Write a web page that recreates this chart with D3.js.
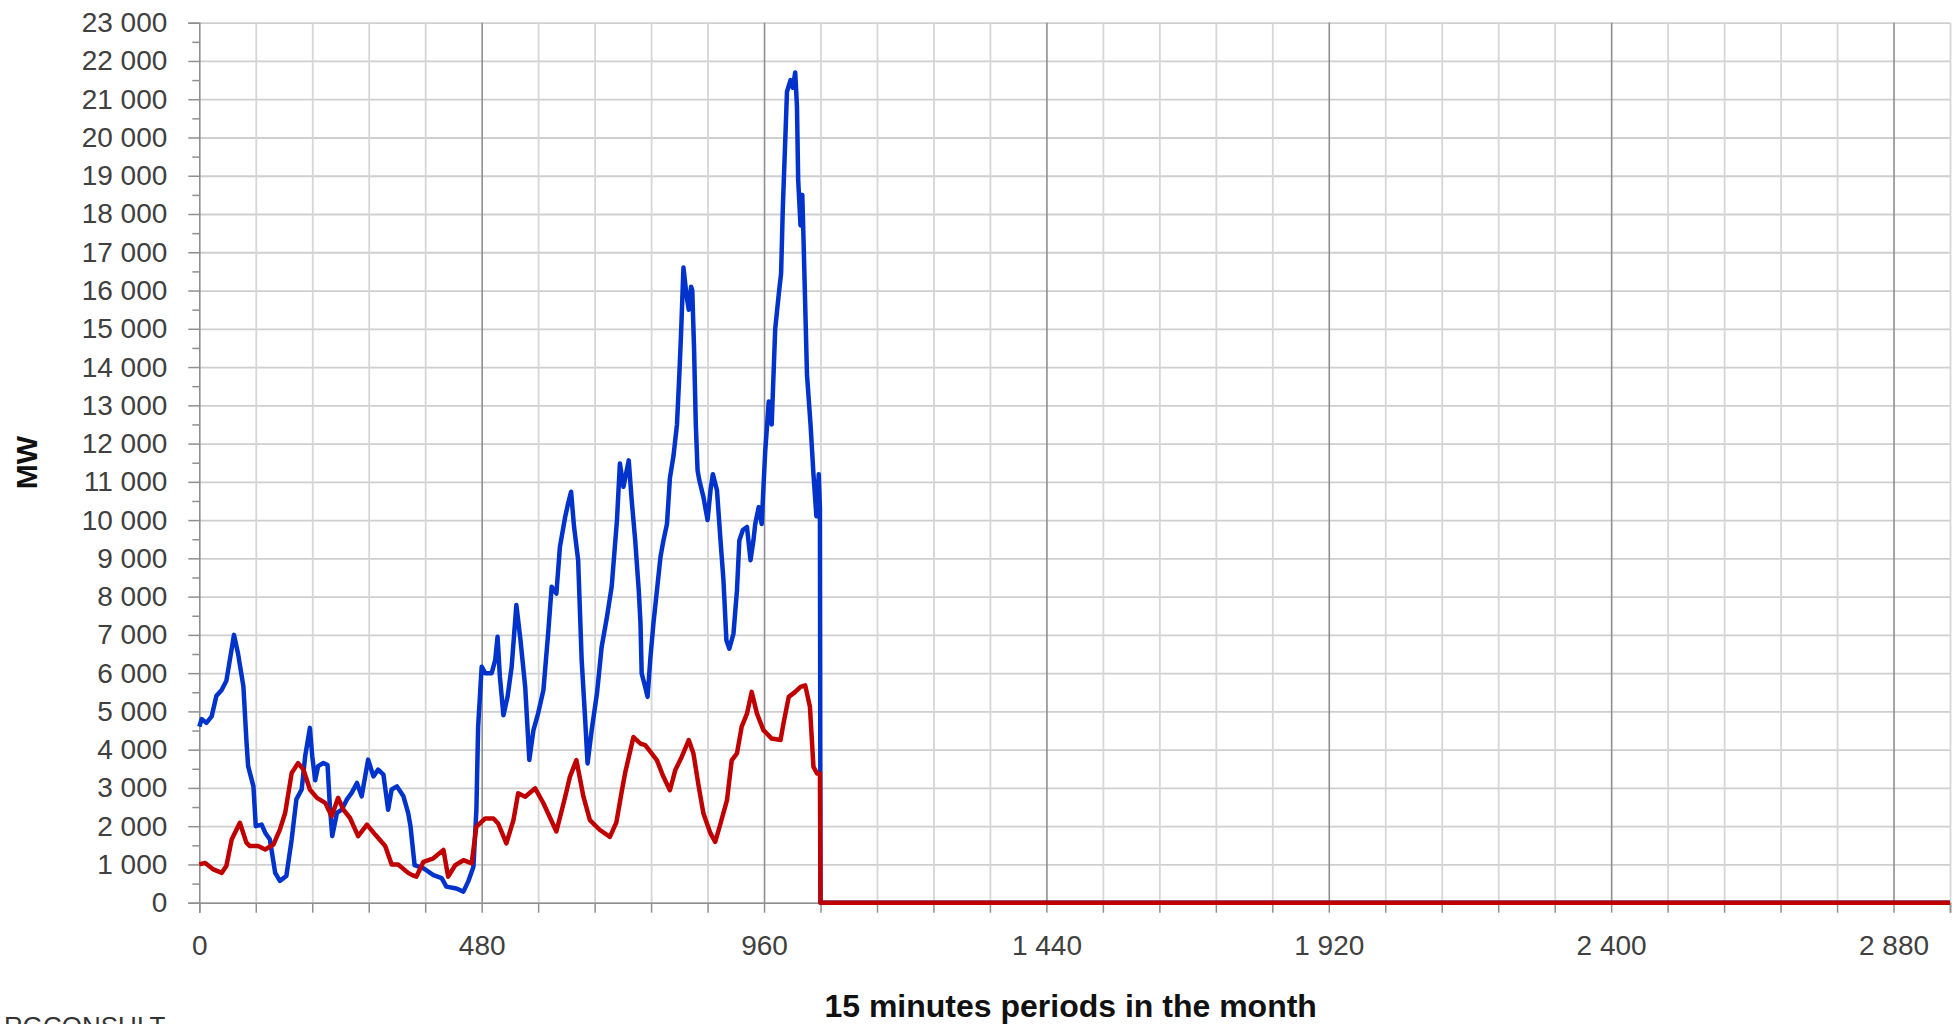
<!DOCTYPE html>
<html>
<head>
<meta charset="utf-8">
<script src="https://cdn.jsdelivr.net/npm/d3@7"></script>
<style>
  body { margin: 0; background: #fff; }
  text { font-family: "Liberation Sans", Arial, sans-serif; fill: #404040; }
</style>
</head>
<body>
<svg id="chart"></svg>
<script>
// 15-min period index (x) and MW readings
const bluePeriods = [0,4,12,21,29,38,46,52,59,66,75,80,83,92,96,106,112,120,129,137,148,157,165,174,180,188,192,197,202,211,218,222,226,234,242,251,259,268,276,287,296,304,313,321,327,336,347,355,359,366,381,398,412,420,437,449,457,466,471,474,480,486,497,503,507,511,517,524,531,539,546,554,561,568,576,585,593,599,607,613,622,627,632,637,644,650,656,660,667,676,684,693,701,710,715,721,730,735,741,747,750,752,758,762,767,772,778,784,789,795,800,806,812,816,819,823,828,832,836,838,841,844,847,850,857,864,869,873,880,886,891,896,901,908,914,918,924,931,937,942,945,951,956,962,968,973,979,985,989,992,996,999,1005,1009,1013,1016,1018,1022,1025,1027,1030,1033,1039,1044,1049,1053,1055,1056,2976];
const blueMW = [4600,4800,4700,4870,5400,5560,5800,6350,7000,6500,5650,4260,3570,3040,2000,2040,1830,1650,780,570,700,1650,2700,2960,3830,4570,3830,3200,3570,3650,3600,2520,1740,2350,2430,2700,2870,3130,2780,3740,3300,3480,3350,2430,2960,3040,2780,2350,2000,980,900,720,640,420,370,290,550,940,2420,4600,6170,6000,6000,6340,6950,5900,4900,5380,6170,7780,6860,5640,3730,4510,4950,5560,7040,8260,8080,9300,10090,10440,10740,9830,8950,6340,4770,3640,4510,5470,6690,7470,8260,10000,11480,10870,11560,10520,9470,8170,7300,5990,5640,5380,6430,7300,8170,9040,9470,9900,11100,11670,12500,13800,14900,16600,15900,15500,16100,16000,14500,12500,11300,11040,10600,10000,10780,11200,10780,9470,8430,6860,6640,7030,8170,9470,9740,9820,8950,9470,9900,10340,9900,11800,13100,12500,15000,15900,16450,18200,19900,21200,21500,21300,21700,20800,18900,17700,18500,17400,15600,13800,12500,11200,10100,11200,10300,0,0];

const redPeriods = [0,10,24,38,46,55,69,80,86,100,112,126,137,146,157,168,177,188,200,214,225,236,245,256,270,285,299,316,327,338,355,362,369,381,398,415,423,435,449,463,471,486,500,508,522,534,542,554,571,585,607,622,630,641,653,664,681,698,709,718,724,738,750,758,767,778,789,800,809,820,832,840,849,857,869,877,886,897,905,914,922,931,939,948,959,973,988,993,1002,1013,1022,1030,1038,1044,1050,1055,1056,2976];
const redMW = [1000,1040,870,780,960,1650,2090,1570,1480,1480,1390,1520,1910,2350,3390,3650,3480,2960,2740,2610,2260,2740,2430,2220,1740,2040,1780,1480,1000,1000,780,720,680,1070,1160,1380,680,980,1110,1030,1990,2200,2200,2070,1550,2160,2860,2770,2990,2600,1860,2770,3290,3730,2770,2160,1900,1720,2100,2900,3400,4330,4160,4120,3940,3720,3290,2940,3460,3810,4250,3900,3030,2330,1810,1590,2070,2680,3720,3900,4600,4940,5510,4940,4510,4290,4250,4680,5380,5510,5640,5680,5120,3550,3380,3380,0,0];

const xLabelTicks = [0, 480, 960, 1440, 1920, 2400, 2880];
const xMax = 2976;
const yMax = 23000;

// Size
const margin = { top: 22.7, right: 5, bottom: 121.3, left: 199.3 },
      W = 1955, H = 1024,
      width = W - margin.left - margin.right,
      height = H - margin.top - margin.bottom;

const svg = d3.select("#chart").attr("width", W).attr("height", H);
svg.append("rect").attr("width", W).attr("height", H).attr("fill", "#fff");

const chart = svg.append("g").attr("transform", `translate(${margin.left},${margin.top})`);

const x = d3.scaleLinear().domain([0, xMax]).range([0, width]);
const y = d3.scaleLinear().domain([0, yMax]).range([height, 0]);

const loc = d3.formatLocale({ decimal: ",", thousands: " ", grouping: [3], currency: ["", ""] });
const fmt = loc.format(",d");

// horizontal gridlines
chart.append("g")
    .call(d3.axisLeft(y).tickValues(d3.range(0, yMax + 1, 1000)).tickSize(-width).tickFormat(""))
    .call(g => g.select(".domain").remove())
    .call(g => g.selectAll("line").attr("stroke", "#cfcfcf").attr("stroke-width", 1.8));

// vertical gridlines (minor every 96, major every 480)
chart.append("g")
    .call(d3.axisBottom(x).tickValues(d3.range(96, xMax + 1, 96).filter(v => v % 480 !== 0)).tickSize(height).tickFormat(""))
    .call(g => g.select(".domain").remove())
    .call(g => g.selectAll("line").attr("stroke", "#d6d6d6").attr("stroke-width", 1.8));

chart.append("g")
    .call(d3.axisBottom(x).tickValues(xLabelTicks.filter(v => v > 0)).tickSize(height).tickFormat(""))
    .call(g => g.select(".domain").remove())
    .call(g => g.selectAll("line").attr("stroke", "#8f8f8f").attr("stroke-width", 1.6));

// y axis: minor and major ticks
chart.append("g")
    .call(d3.axisLeft(y).tickValues(d3.range(500, yMax, 1000)).tickSize(7).tickFormat(""))
    .call(g => g.select(".domain").remove())
    .call(g => g.selectAll("line").attr("stroke", "#8f8f8f").attr("stroke-width", 1.5));

chart.append("g")
    .call(d3.axisLeft(y).tickValues(d3.range(0, yMax + 1, 1000)).tickSize(11).tickPadding(21).tickFormat(fmt))
    .call(g => g.select(".domain").attr("stroke", "#8f8f8f").attr("stroke-width", 1.6))
    .call(g => g.selectAll("line").attr("stroke", "#8f8f8f").attr("stroke-width", 1.5))
    .call(g => g.selectAll("text").style("font-size", "28px").attr("fill", "#404040"));

// x axis
chart.append("g")
    .attr("transform", `translate(0,${height})`)
    .call(d3.axisBottom(x).tickValues(d3.range(0, xMax + 1, 96)).tickSize(10).tickFormat(""))
    .call(g => g.select(".domain").attr("stroke", "#8f8f8f").attr("stroke-width", 1.6))
    .call(g => g.selectAll("line").attr("stroke", "#8f8f8f").attr("stroke-width", 1.5));

chart.append("g")
    .attr("transform", `translate(0,${height})`)
    .call(d3.axisBottom(x).tickValues(xLabelTicks).tickSize(0).tickPadding(32).tickFormat(fmt))
    .call(g => g.select(".domain").remove())
    .call(g => g.selectAll("text").style("font-size", "28px").attr("fill", "#404040"));

// lines
const line = d3.line().x(d => x(d[0])).y(d => y(d[1]));

chart.append("path")
    .datum(d3.zip(bluePeriods, blueMW))
    .attr("fill", "none")
    .attr("stroke", "#0033cc")
    .attr("stroke-width", 4.5)
    .attr("stroke-linejoin", "round")
    .attr("d", line);

chart.append("path")
    .datum(d3.zip(redPeriods, redMW))
    .attr("fill", "none")
    .attr("stroke", "#c00000")
    .attr("stroke-width", 4.5)
    .attr("stroke-linejoin", "round")
    .attr("d", line);

// axis titles
svg.append("text")
    .attr("transform", `translate(37,${margin.top + height / 2}) rotate(-90)`)
    .attr("text-anchor", "middle")
    .style("font-size", "30px")
    .style("font-weight", "bold")
    .style("fill", "#111")
    .text("MW");

svg.append("text")
    .attr("x", margin.left + width / 2 - 4)
    .attr("y", 1017)
    .attr("text-anchor", "middle")
    .style("font-size", "32px")
    .style("font-weight", "bold")
    .style("fill", "#111")
    .text("15 minutes periods in the month");

// source credit, cut at the bottom edge as in the original
svg.append("text")
    .attr("x", 4)
    .attr("y", 1035)
    .style("font-size", "26px")
    .style("fill", "#333")
    .text("RGCONSULT");
</script>
</body>
</html>
